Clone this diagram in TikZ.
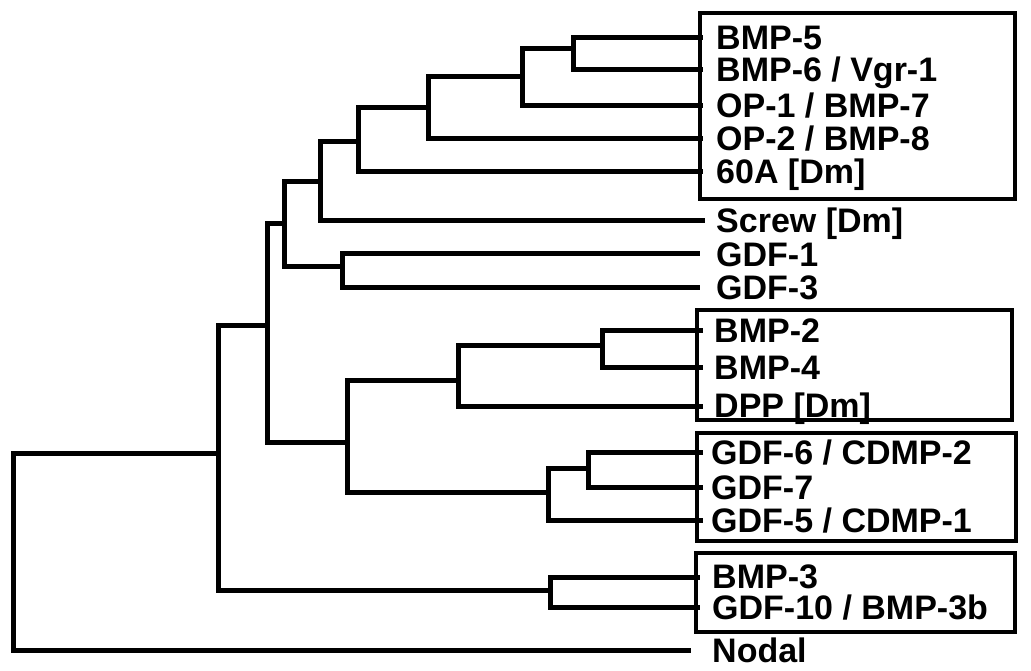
\documentclass[tikz,border=0pt]{standalone}
\usepackage{fontspec}
\setmainfont{Liberation Sans}
\begin{document}
\begin{tikzpicture}[x=1pt,y=-1pt,
  branch/.style={line width=5pt,line join=miter,line cap=rect},
  groupbox/.style={line width=4.5pt,line join=miter},
  leaftext/.style={anchor=base west,inner sep=0pt,text height=22pt,text depth=0pt,font=\fontsize{34}{40}\selectfont\bfseries}]
\useasboundingbox (0,0) rectangle (1031,671);
% leaf ends
\coordinate (l1) at (700,38);
\coordinate (l2) at (700,70);
\coordinate (l3) at (700,106);
\coordinate (l4) at (700,139);
\coordinate (l5) at (700,172);
\coordinate (l6) at (702,221);
\coordinate (l7) at (697,254);
\coordinate (l8) at (697,287);
\coordinate (l9) at (700,330);
\coordinate (l10) at (700,367);
\coordinate (l11) at (700,406);
\coordinate (l12) at (700,452);
\coordinate (l13) at (700,487);
\coordinate (l14) at (700,520);
\coordinate (l15) at (697,577);
\coordinate (l16) at (697,607);
\coordinate (l17) at (688,650);
% internal nodes
\coordinate (n1) at (573,49);
\coordinate (n2) at (522,77);
\coordinate (n3) at (428,108);
\coordinate (n4) at (358,142);
\coordinate (n5) at (320,182);
\coordinate (n6) at (342,267);
\coordinate (n7) at (284,224);
\coordinate (n8) at (602,345);
\coordinate (n9) at (458,380);
\coordinate (n10) at (588,468);
\coordinate (n11) at (548,492);
\coordinate (n12) at (347,442);
\coordinate (n13) at (267,325);
\coordinate (n14) at (550,590);
\coordinate (n15) at (218,453);
\coordinate (root) at (13,453);
% branches
\draw[branch] (l1) -| (n1) |- (l2);
\draw[branch] (n1) -| (n2) |- (l3);
\draw[branch] (n2) -| (n3) |- (l4);
\draw[branch] (n3) -| (n4) |- (l5);
\draw[branch] (n4) -| (n5) |- (l6);
\draw[branch] (l7) -| (n6) |- (l8);
\draw[branch] (n5) -| (n7) |- (n6);
\draw[branch] (l9) -| (n8) |- (l10);
\draw[branch] (n8) -| (n9) |- (l11);
\draw[branch] (l12) -| (n10) |- (l13);
\draw[branch] (n10) -| (n11) |- (l14);
\draw[branch] (n9) -| (n12) |- (n11);
\draw[branch] (n7) -| (n13) |- (n12);
\draw[branch] (l15) -| (n14) |- (l16);
\draw[branch] (n13) -| (n15) |- (n14);
\draw[branch] (n15) -- (root) |- (l17);
% boxes
\draw[groupbox] (700,13) rectangle (1015,199);
\draw[groupbox] (697,310) rectangle (1012,420);
\draw[groupbox] (697,433) rectangle (1016,541);
\draw[groupbox] (696,553) rectangle (1015,632);
% labels
\node[leaftext] (t1) at (716,50) {BMP-5};
\node[leaftext] (t2) at (716,82) {BMP-6 / Vgr-1};
\node[leaftext] (t3) at (716,118) {OP-1 / BMP-7};
\node[leaftext] (t4) at (716,151) {OP-2 / BMP-8};
\node[leaftext] (t5) at (716,184) {60A [Dm]};
\node[leaftext] (t6) at (716,233) {Screw [Dm]};
\node[leaftext] (t7) at (716,266) {GDF-1};
\node[leaftext] (t8) at (716,299) {GDF-3};
\node[leaftext] (t9) at (714,342) {BMP-2};
\node[leaftext] (t10) at (714,379) {BMP-4};
\node[leaftext] (t11) at (714,417) {DPP [Dm]};
\node[leaftext] (t12) at (711,464) {GDF-6 / CDMP-2};
\node[leaftext] (t13) at (711,499) {GDF-7};
\node[leaftext] (t14) at (711,532) {GDF-5 / CDMP-1};
\node[leaftext] (t15) at (712,588) {BMP-3};
\node[leaftext] (t16) at (712,619) {GDF-10 / BMP-3b};
\node[leaftext] (t17) at (712,662) {Nodal};
\end{tikzpicture}
\end{document}
